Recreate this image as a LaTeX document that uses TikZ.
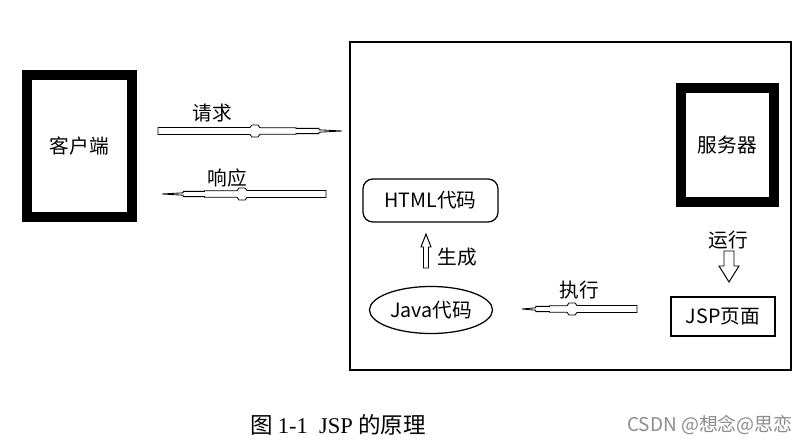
\documentclass[tikz,border=0pt]{standalone}
\usepackage{fontspec}
\setmainfont{Noto Sans CJK SC}
\newfontfamily\capserif{Liberation Serif}
\usetikzlibrary{shapes.geometric}

\tikzset{
  pics/lance/.style 2 args={code={
    \draw[fill=white, line width=0.6pt]
      (0,-3.5) -- (#1,-3.5) -- ({#1+2},-6) -- ({#1+8},-6) -- ({#1+10},-3.2)
      -- ({#1+0.5*#2},-3.2) -- ({#1+0.5*#2},-2.6) -- ({#1+0.75*#2},-2.6)
      -- ({#1+0.75*#2},-1.2) -- ({#1+#2},0) -- ({#1+0.75*#2},1.2)
      -- ({#1+0.75*#2},2.6) -- ({#1+0.5*#2},2.6) -- ({#1+0.5*#2},3.2)
      -- ({#1+10},3.2) -- ({#1+8},6) -- ({#1+2},6) -- (#1,3.5) -- (0,3.5) -- cycle;
  }},
  pics/hollow/.style n args={3}{code={
    \draw[fill=white, line width=0.7pt]
      (0,{-#2/2}) -- ({#1-#3},{-#2/2}) -- ({#1-#3},-#2) -- (#1,0)
      -- ({#1-#3},#2) -- ({#1-#3},{#2/2}) -- (0,{#2/2}) -- cycle;
  }},
}

\begin{document}
\begin{tikzpicture}[x=0.025cm, y=-0.025cm,
    lbl/.style={font=\fontsize{14}{16}\selectfont, inner sep=0pt},
    thickbox/.style={draw, line width=7pt, lbl},
    thinbox/.style={draw, line width=0.9pt, lbl}]
  \useasboundingbox (0,0) rectangle (805,447);

  % outer frame of the server side
  \node at (570.5,206) [draw, line width=1pt, minimum width=11.025cm, minimum height=8.2cm] (container) {};

  \node at (79.5,146) [thickbox, minimum width=2.625cm, minimum height=3.55cm] (client) {客户端};
  \node at (727.5,145) [thickbox, minimum width=2.325cm, minimum height=2.85cm] (server) {服务器};

  \node at (430.5,200.5) [thinbox, rounded corners=7pt, minimum width=3.375cm, minimum height=1.075cm] (html) {HTML代码};
  \node at (431,310) [thinbox, ellipse, minimum width=3.075cm, minimum height=1.175cm] (java) {Java代码};
  \node at (723,316.5) [thinbox, minimum width=2.6cm, minimum height=0.975cm] (jsp) {JSP页面};

  % arrows
  \coordinate (req) at (158,131);
  \coordinate (resp) at (326,194);
  \coordinate (exec) at (637,309);
  \coordinate (gen) at (426,268);
  \coordinate (run) at (729,251);
  \pic at (req) {lance={92}{92}};
  \pic[rotate=180] at (resp) {lance={79}{85}};
  \pic[rotate=180] at (exec) {lance={60}{55}};
  \pic[rotate=90] at (gen) {hollow={34}{5}{13}};
  \pic[rotate=-90] at (run) {hollow={31}{10}{16}};

  \node at (212,113) [lbl] (reqlbl) {请求};
  \node at (227,178) [lbl] (resplbl) {响应};
  \node at (457,257) [lbl] (genlbl) {生成};
  \node at (579,290) [lbl] (execlbl) {执行};
  \node at (728,240) [lbl] (runlbl) {运行};

  \node at (338,425) [font=\fontsize{16}{18}\selectfont, inner sep=0pt] (caption) {图\ {\capserif 1-1\ \ JSP} 的原理};
  \node at (710,425) [font=\fontsize{13.5}{16}\selectfont, text=black!45, inner sep=0pt] (mark) {CSDN @想念@思恋};
\end{tikzpicture}
\end{document}
